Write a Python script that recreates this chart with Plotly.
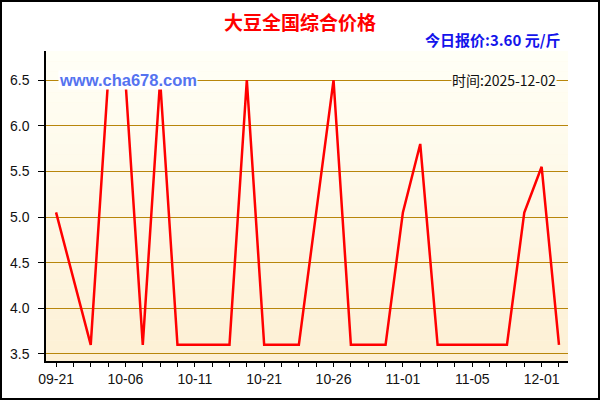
import plotly.graph_objects as go

# ---- data ----
dates = ["2025-09-21", "2025-09-25", "2025-09-28", "2025-10-02", "2025-10-06",
         "2025-10-07", "2025-10-08", "2025-10-09", "2025-10-11", "2025-10-13",
         "2025-10-15", "2025-10-18", "2025-10-21", "2025-10-22", "2025-10-23",
         "2025-10-24", "2025-10-26", "2025-10-27", "2025-10-29", "2025-10-30",
         "2025-11-01", "2025-11-02", "2025-11-03", "2025-11-04", "2025-11-05",
         "2025-11-06", "2025-11-10", "2025-11-20", "2025-12-01", "2025-12-02"]
prices = [5.05, 4.33, 3.60, 6.50, 6.50, 3.60, 6.50, 3.60, 3.60, 3.60,
          3.60, 6.50, 3.60, 3.60, 3.60, 5.05, 6.50, 3.60, 3.60, 3.60,
          5.05, 5.80, 3.60, 3.60, 3.60, 3.60, 3.60, 5.05, 5.55, 3.60]
label_dates = ["2025-09-21", "2025-10-06", "2025-10-11", "2025-10-21",
               "2025-10-26", "2025-11-01", "2025-11-05", "2025-12-01"]
label_text = ["09-21", "10-06", "10-11", "10-21", "10-26", "11-01", "11-05", "12-01"]
y_ticks = [3.5, 4.0, 4.5, 5.0, 5.5, 6.0, 6.5]
title_text = "大豆全国综合价格"
today_text = "今日报价:3.60 元/斤"
time_text = "时间:2025-12-02"
site_text = "www.cha678.com"

n = len(dates)
xr = [-0.58, n - 1 + 0.52]
yr = [3.423, 6.818]
label_idx = [dates.index(d) for d in label_dates]
all_idx = list(range(n))

fig = go.Figure()
fig.add_trace(go.Scatter(x=dates, y=prices, mode="lines",
                         line=dict(color="#FF0000", width=2.5),
                         hoverinfo="x+y", showlegend=False))

# background gradient bands
top_c = (255, 255, 246)
bot_c = (253, 240, 213)
nb = 30
shapes = []
for i in range(nb):
    t = i / (nb - 1)
    c = tuple(round(bot_c[k] + (top_c[k] - bot_c[k]) * t) for k in range(3))
    shapes.append(dict(type="rect", xref="x domain", yref="y domain",
                       x0=0, x1=1, y0=i / nb, y1=(i + 1) / nb,
                       fillcolor="rgb(%d,%d,%d)" % c, line=dict(width=0),
                       layer="below"))
# outer border
shapes.append(dict(type="rect", xref="paper", yref="paper",
                   x0=-0.0862, x1=1.0594, y0=-0.1226, y1=1.1613,
                   line=dict(color="black", width=2), fillcolor="rgba(0,0,0,0)"))

tickfont = dict(family="Liberation Sans, Arial", size=14, color="#111")

fig.update_layout(
    width=600, height=400,
    margin=dict(l=46, r=32, t=51, b=39, autoexpand=False),
    paper_bgcolor="white", plot_bgcolor="rgb(254,248,230)",
    shapes=shapes,
    xaxis=dict(type="category", categoryarray=dates, categoryorder="array",
               range=xr, tickvals=dates,
               ticktext=[label_text[label_idx.index(i)] if i in label_idx else "" for i in all_idx],
               ticks="outside", ticklen=4, tickwidth=1.2, tickcolor="black",
               showline=True, linecolor="black", linewidth=1.5, automargin=False,
               showgrid=False, zeroline=False, tickfont=tickfont, fixedrange=True),
    xaxis2=dict(overlaying="x", anchor="y", side="bottom", range=xr,
                tickvals=label_idx, showticklabels=False, ticks="outside",
                ticklen=7, tickwidth=1.2, tickcolor="black", automargin=False,
                showgrid=False, zeroline=False, showline=False),
    xaxis3=dict(overlaying="x", anchor="y", side="top", range=xr,
                tickvals=all_idx, showticklabels=False, ticks="inside",
                ticklen=4, tickwidth=1.2, tickcolor="black", automargin=False,
                showline=True, linecolor="black", linewidth=1.5,
                showgrid=False, zeroline=False),
    yaxis=dict(range=yr, tickvals=y_ticks, tickformat=".1f",
               ticks="outside", ticklen=6, tickwidth=1.2, tickcolor="black",
               showline=True, linecolor="black", linewidth=1.5, automargin=False,
               showgrid=True, gridcolor="rgb(184,134,11)", gridwidth=1,
               zeroline=False, tickfont=tickfont, ticklabelstandoff=6,
               fixedrange=True),
    yaxis2=dict(overlaying="y", anchor="x", side="left", range=yr, dtick=0.1,
                tick0=0, showticklabels=False, ticks="inside", ticklen=5,
                tickwidth=1.2, tickcolor="black", showgrid=False, automargin=False,
                zeroline=False, showline=False),
    yaxis3=dict(overlaying="y", anchor="x", side="right", range=yr, dtick=0.1,
                tick0=0, showticklabels=False, ticks="inside", ticklen=5,
                tickwidth=1.2, tickcolor="black", showgrid=False, automargin=False,
                zeroline=False, showline=True, linecolor="black", linewidth=1.5),
    title=dict(text="<b>%s</b>" % title_text, x=0.5, xanchor="center",
               y=1 - 23 / 400, yanchor="middle", yref="container",
               font=dict(family="Noto Sans CJK SC", size=19, color="#FF0000")),
    annotations=[
        dict(text="<b>%s</b>" % today_text, xref="paper", yref="paper",
             x=0.9904, xanchor="right", y=1.0387, yanchor="middle",
             showarrow=False,
             font=dict(family="Noto Sans CJK SC", size=15, color="rgb(20,20,235)")),
        dict(text="<b>%s</b>" % site_text, xref="paper", yref="y",
             x=0.023, xanchor="left", y=6.5, yanchor="middle", showarrow=False,
             bgcolor="white", borderpad=0,
             font=dict(family="Liberation Sans, Arial", size=16.5, color="rgb(85,115,240)")),
        dict(text=time_text, xref="paper", yref="y",
             x=0.9789, xanchor="right", y=6.5, yanchor="middle", showarrow=False,
             bgcolor="rgb(255,254,243)", borderpad=0,
             font=dict(family="Noto Sans CJK SC", size=14, color="#111")),
    ],
)

fig.write_html("out.html", config={"displayModeBar": False},
               post_script="document.body.style.margin='0';document.body.style.padding='0';")
